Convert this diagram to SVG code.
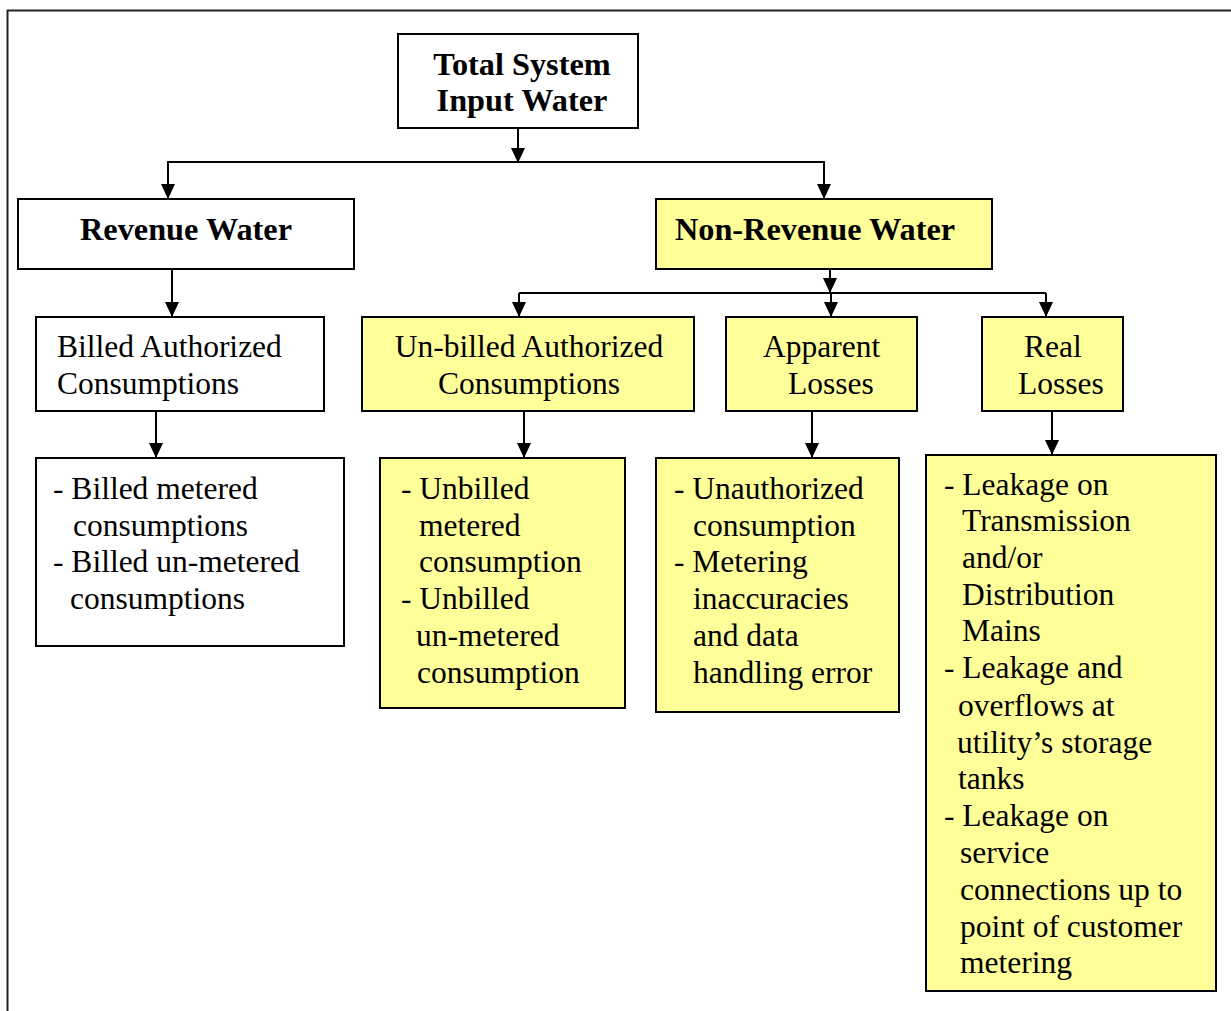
<svg xmlns="http://www.w3.org/2000/svg" width="1231" height="1011" viewBox="0 0 1231 1011">
<defs>
<marker id="ah" markerWidth="15" markerHeight="14" refX="15" refY="7" orient="auto" markerUnits="userSpaceOnUse">
<path d="M0,0 L15,7 L0,14 Z" fill="#000"/>
</marker>
<style>
.box{stroke:#000;stroke-width:2;fill:#fff}
.y{fill:#FFFF99}
.t{font-family:"Liberation Serif","Times New Roman",serif;font-size:31.5px;fill:#000}
.b{font-weight:bold;font-size:32.3px}
.c{text-anchor:middle}
.ln{stroke:#000;stroke-width:2;fill:none}
.ar{stroke:#000;stroke-width:2;fill:none;marker-end:url(#ah)}
</style>
</defs>
<rect x="0" y="0" width="1231" height="1011" fill="#fff"/>
<rect x="7.5" y="10.5" width="1250" height="1030" fill="none" stroke="#222" stroke-width="2"/>
<g id="connectors">
<line class="ar" x1="518" y1="128" x2="518" y2="163"/>
<polyline class="ln" points="168,200 168,162 824,162 824,200"/>
<line class="ar" x1="168" y1="162" x2="168" y2="199"/>
<line class="ar" x1="824" y1="162" x2="824" y2="199"/>
<line class="ar" x1="172" y1="269" x2="172" y2="317"/>
<line class="ar" x1="830" y1="269" x2="830" y2="293"/>
<polyline class="ln" points="519,293 1046,293"/>
<line class="ar" x1="519" y1="293" x2="519" y2="317"/>
<line class="ar" x1="831" y1="293" x2="831" y2="317"/>
<line class="ar" x1="1046" y1="293" x2="1046" y2="317"/>
<line class="ar" x1="156" y1="411" x2="156" y2="458"/>
<line class="ar" x1="524" y1="411" x2="524" y2="458"/>
<line class="ar" x1="812" y1="411" x2="812" y2="458"/>
<line class="ar" x1="1052" y1="411" x2="1052" y2="455"/>
</g>
<g id="total">
<rect class="box" x="398" y="34" width="240" height="94"/>
<text class="t b c" x="522" y="75">Total System</text>
<text class="t b c" x="522" y="111">Input Water</text>
</g>
<g id="revenue">
<rect class="box" x="18" y="199" width="336" height="70"/>
<text class="t b c" x="186" y="240">Revenue Water</text>
</g>
<g id="nonrevenue">
<rect class="box y" x="656" y="199" width="336" height="70"/>
<text class="t b c" x="815" y="240">Non-Revenue Water</text>
</g>
<g id="billed">
<rect class="box" x="36" y="317" width="288" height="94"/>
<text class="t" x="57" y="357">Billed Authorized</text>
<text class="t" x="57" y="394">Consumptions</text>
</g>
<g id="unbilled">
<rect class="box y" x="362" y="317" width="332" height="94"/>
<text class="t c" x="529" y="357">Un-billed Authorized</text>
<text class="t c" x="529" y="394">Consumptions</text>
</g>
<g id="apparent">
<rect class="box y" x="726" y="317" width="191" height="94"/>
<text class="t" x="763" y="357">Apparent</text>
<text class="t" x="788" y="394">Losses</text>
</g>
<g id="real">
<rect class="box y" x="982" y="317" width="141" height="94"/>
<text class="t" x="1024" y="357">Real</text>
<text class="t" x="1018" y="394">Losses</text>
</g>
<g id="billed-list">
<rect class="box" x="36" y="458" width="308" height="188"/>
<text class="t" x="53" y="499">- Billed metered</text>
<text class="t" x="73" y="536">consumptions</text>
<text class="t" x="53" y="572">- Billed un-metered</text>
<text class="t" x="70" y="609">consumptions</text>
</g>
<g id="unbilled-list">
<rect class="box y" x="380" y="458" width="245" height="250"/>
<text class="t" x="401" y="499">- Unbilled</text>
<text class="t" x="419" y="536">metered</text>
<text class="t" x="419" y="572">consumption</text>
<text class="t" x="401" y="609">- Unbilled</text>
<text class="t" x="416" y="646">un-metered</text>
<text class="t" x="417" y="683">consumption</text>
</g>
<g id="apparent-list">
<rect class="box y" x="656" y="458" width="243" height="254"/>
<text class="t" x="674" y="499">- Unauthorized</text>
<text class="t" x="693" y="536">consumption</text>
<text class="t" x="674" y="572">- Metering</text>
<text class="t" x="693" y="609">inaccuracies</text>
<text class="t" x="693" y="646">and data</text>
<text class="t" x="693" y="683">handling error</text>
</g>
<g id="real-list">
<rect class="box y" x="926" y="455" width="290" height="536"/>
<text class="t" x="944" y="495">- Leakage on</text>
<text class="t" x="962" y="531">Transmission</text>
<text class="t" x="962" y="568">and/or</text>
<text class="t" x="962" y="605">Distribution</text>
<text class="t" x="962" y="641">Mains</text>
<text class="t" x="944" y="678">- Leakage and</text>
<text class="t" x="958" y="716">overflows at</text>
<text class="t" x="957" y="753">utility’s storage</text>
<text class="t" x="958" y="789">tanks</text>
<text class="t" x="944" y="826">- Leakage on</text>
<text class="t" x="960" y="863">service</text>
<text class="t" x="960" y="900">connections up to</text>
<text class="t" x="960" y="937">point of customer</text>
<text class="t" x="960" y="973">metering</text>
</g>
</svg>
